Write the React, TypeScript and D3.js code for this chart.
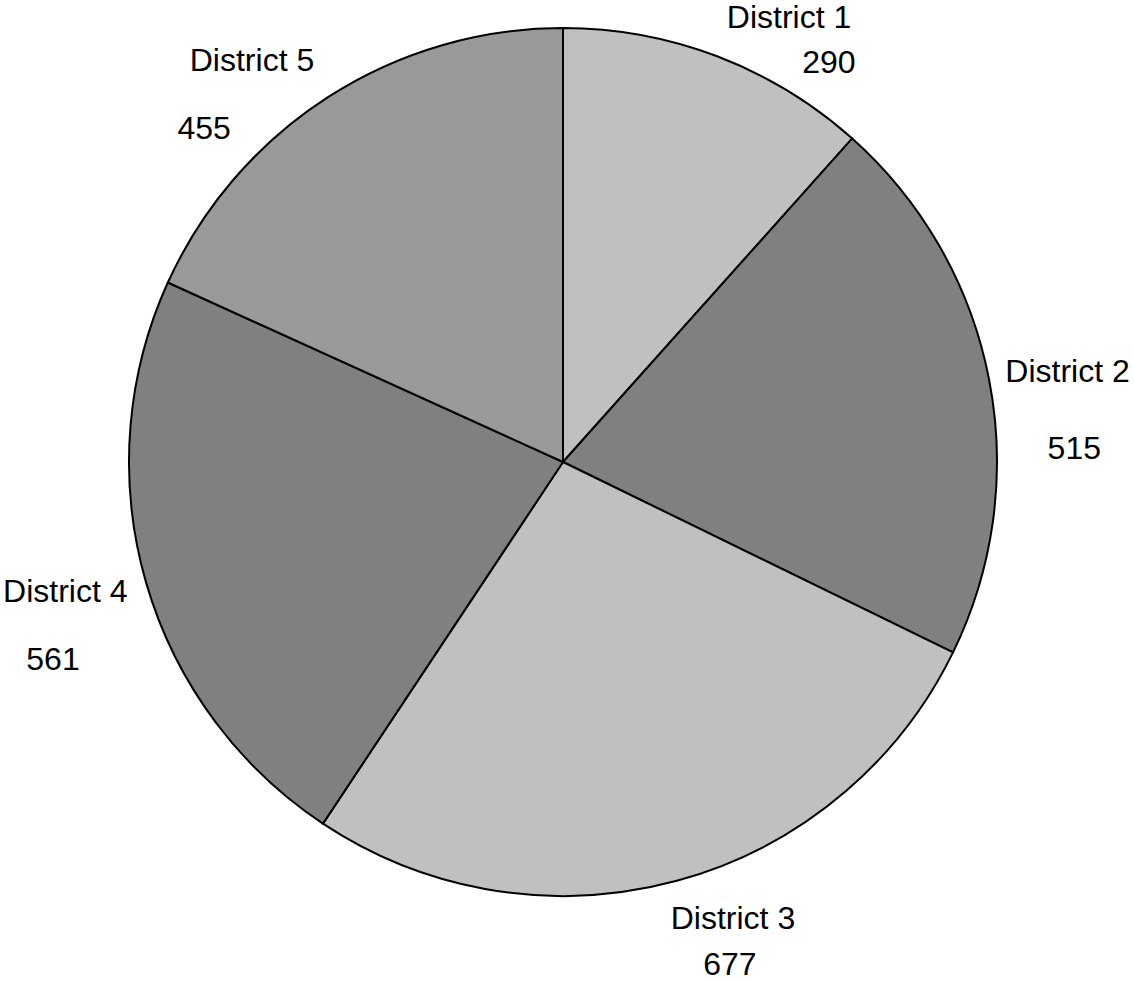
import React from "react";
import * as d3 from "d3";

const districts = ["District 1", "District 2", "District 3", "District 4", "District 5"];
const counts = [290, 515, 677, 561, 455];
const sliceColors = ["#c0c0c0", "#808080", "#c0c0c0", "#808080", "#999999"];

// label layout relative to the slice's mid-angle point on the label radius
const nameAnchors = ["start", "start", "middle", "end", "end"];
const nameOffsets = [[-2, 0], [-14, 9], [48, 18.5], [11.5, 12], [3, 0]];
const valueOffsets = [[100, 45], [55, 86], [45, 64.5], [-63, 80], [-107, 68]];

const W = 1134;
const H = 982;
const cx = 563;
const cy = 462;
const radius = 434;
const labelRadius = 465;

export default function App() {
  const data = districts.map((d, i) => ({ name: d, value: counts[i], i }));
  const pie = d3
    .pie<any>()
    .sort(null)
    .value((d: any) => d.value)
    .startAngle(0)
    .endAngle(2 * Math.PI);
  const arcs = pie(data);
  const arc = d3.arc<any>().innerRadius(0).outerRadius(radius);

  return (
    <svg
      width={W}
      height={H}
      style={{ position: "absolute", left: 0, top: 0, background: "#fff" }}
      fontFamily="'Liberation Sans', Arial, sans-serif"
    >
      <g transform={`translate(${cx},${cy})`}>
        {arcs.map((a: any, i: number) => (
          <path
            key={i}
            d={arc(a) as string}
            fill={sliceColors[i]}
            stroke="#000"
            strokeWidth={2}
            strokeLinejoin="round"
          />
        ))}
        {arcs.map((a: any, i: number) => {
          const mid = (a.startAngle + a.endAngle) / 2;
          const px = Math.sin(mid) * labelRadius;
          const py = -Math.cos(mid) * labelRadius;
          return (
            <g key={"l" + i} fontSize={32} fill="#000">
              <text
                x={px + nameOffsets[i][0]}
                y={py + nameOffsets[i][1]}
                textAnchor={nameAnchors[i]}
              >
                {a.data.name}
              </text>
              <text
                x={px + valueOffsets[i][0]}
                y={py + valueOffsets[i][1]}
                textAnchor="middle"
              >
                {a.data.value}
              </text>
            </g>
          );
        })}
      </g>
    </svg>
  );
}
